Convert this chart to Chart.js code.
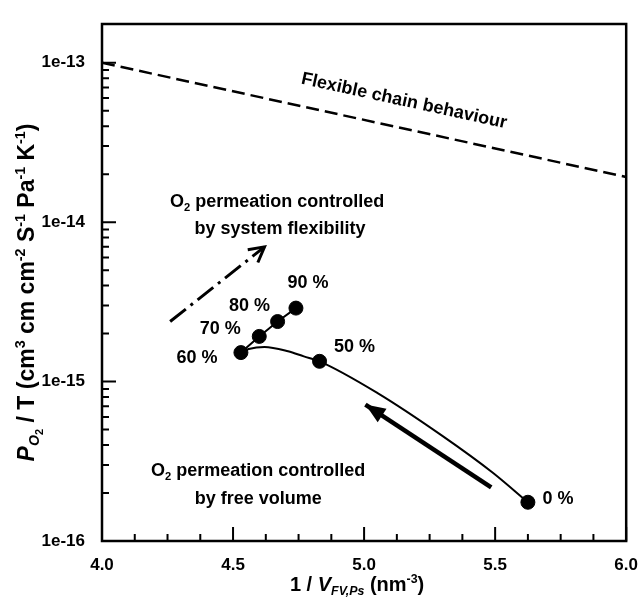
<!DOCTYPE html>
<html>
<head>
<meta charset="utf-8">
<script src="https://cdn.jsdelivr.net/npm/chart.js@4"></script>
<style>
  html, body { margin: 0; padding: 0; background: #fff; }
  canvas { display: block; }
</style>
</head>
<body>
<canvas id="permChart" width="644" height="598"></canvas>
<script>
// ===============================
// O2 PERMEABILITY vs 1/V(FV,Ps)
// ===============================

const FAMILY = '"Liberation Sans", Arial, Helvetica, sans-serif';

// measured samples (composition labels)
const sampleLabels = ["0 %", "50 %", "60 %", "70 %", "80 %", "90 %"];
const sampleX = [5.625, 4.83, 4.53, 4.60, 4.67, 4.74];
const sampleY = [1.75e-16, 1.34e-15, 1.52e-15, 1.92e-15, 2.38e-15, 2.89e-15];

// trend line through the 0 - 60 % samples
const curveX = [4.53, 4.56, 4.62, 4.71, 4.77, 4.83, 5.05, 5.30, 5.49, 5.625];
const curveY = [1.52e-15, 1.60e-15, 1.65e-15, 1.55e-15, 1.44e-15, 1.34e-15, 8.5e-16, 4.55e-16, 2.69e-16, 1.75e-16];

// flexible chain limit
const flexX = [4.0, 6.0];
const flexY = [1.0e-13, 1.92e-14];

// guide arrows (tail -> head)
const flexArrowX = [4.26, 4.62];
const flexArrowY = [2.38e-15, 7.0e-15];
const volArrowX = [5.485, 5.005];
const volArrowY = [2.17e-16, 7.18e-16];

// axes
const xTicks = [4.0, 4.5, 5.0, 5.5, 6.0];
const yTicks = [1e-16, 1e-15, 1e-14, 1e-13];

const pts = (xs, ys) => xs.map((x, i) => ({ x: x, y: ys[i] }));

// label offsets in px from each sample marker
const labelOffsets = {
    "0 %": [30, -3],
    "50 %": [35, -14],
    "60 %": [-44, 5],
    "70 %": [-39, -7],
    "80 %": [-28, -16],
    "90 %": [12, -25]
};

// text runs: [text, kind]  kind = "" | "i" | "sub" | "isub" | "subsub" | "sup"
function richText(ctx, parts, x, y, size, align) {
    const items = parts.map(([t, k]) => {
        let s = size, dy = 0;
        if (k === "sub" || k === "isub") { s = size * 0.62; dy = size * 0.22; }
        if (k === "subsub") { s = size * 0.48; dy = size * 0.38; }
        if (k === "sup") { s = size * 0.62; dy = -size * 0.40; }
        const italic = k === "i" || k === "isub";
        const font = (italic ? "italic " : "") + "bold " + s + "px " + FAMILY;
        ctx.font = font;
        return { t: t, font: font, dy: dy, w: ctx.measureText(t).width };
    });
    const total = items.reduce((a, b) => a + b.w, 0);
    let cx = align === "center" ? x - total / 2 : (align === "right" ? x - total : x);
    ctx.textAlign = "left";
    ctx.textBaseline = "alphabetic";
    items.forEach(it => {
        ctx.font = it.font;
        ctx.fillText(it.t, cx, y + it.dy);
        cx += it.w;
    });
}

const decorPlugin = {
    id: "decor",
    afterDraw(chart) {
        const ctx = chart.ctx;
        const a = chart.chartArea;
        const xs = chart.scales.x;
        const ys = chart.scales.y;

        ctx.save();
        ctx.strokeStyle = "#000";
        ctx.fillStyle = "#000";

        // frame
        ctx.lineWidth = 2.5;
        ctx.strokeRect(a.left, a.top, a.right - a.left, a.bottom - a.top);

        // inward ticks on x
        ctx.lineWidth = 2;
        ctx.beginPath();
        for (let i = 0; i < xTicks.length; i++) {
            const px = xs.getPixelForValue(xTicks[i]);
            ctx.moveTo(px, a.bottom);
            ctx.lineTo(px, a.bottom - 14);
            if (i < xTicks.length - 1) {
                const step = (xTicks[i + 1] - xTicks[i]) / 4;
                for (let m = 1; m < 4; m++) {
                    const mx = xs.getPixelForValue(xTicks[i] + m * step);
                    ctx.moveTo(mx, a.bottom);
                    ctx.lineTo(mx, a.bottom - 7);
                }
            }
        }
        // inward ticks on y (log decades + minors)
        yTicks.forEach(d => {
            const py = ys.getPixelForValue(d);
            ctx.moveTo(a.left, py);
            ctx.lineTo(a.left + 14, py);
            for (let m = 2; m <= 9; m++) {
                const v = d * m;
                if (v > ys.max) break;
                const my = ys.getPixelForValue(v);
                ctx.moveTo(a.left, my);
                ctx.lineTo(a.left + 7, my);
            }
        });
        ctx.stroke();

        // open arrow head on the dash-dot guide
        {
            const n = flexArrowX.length;
            const x1 = xs.getPixelForValue(flexArrowX[n - 2]), y1 = ys.getPixelForValue(flexArrowY[n - 2]);
            const x2 = xs.getPixelForValue(flexArrowX[n - 1]), y2 = ys.getPixelForValue(flexArrowY[n - 1]);
            const ang = Math.atan2(y2 - y1, x2 - x1);
            ctx.lineWidth = 3;
            ctx.beginPath();
            ctx.moveTo(x2 - 17 * Math.cos(ang - 0.5), y2 - 17 * Math.sin(ang - 0.5));
            ctx.lineTo(x2, y2);
            ctx.lineTo(x2 - 17 * Math.cos(ang + 0.5), y2 - 17 * Math.sin(ang + 0.5));
            ctx.stroke();
        }
        // solid arrow head on the free volume guide
        {
            const n = volArrowX.length;
            const x1 = xs.getPixelForValue(volArrowX[n - 2]), y1 = ys.getPixelForValue(volArrowY[n - 2]);
            const x2 = xs.getPixelForValue(volArrowX[n - 1]), y2 = ys.getPixelForValue(volArrowY[n - 1]);
            const ang = Math.atan2(y2 - y1, x2 - x1);
            const len = 20, half = 8;
            const bx = x2 - len * Math.cos(ang), by = y2 - len * Math.sin(ang);
            ctx.beginPath();
            ctx.moveTo(x2, y2);
            ctx.lineTo(bx + half * Math.sin(ang), by - half * Math.cos(ang));
            ctx.lineTo(bx - half * Math.sin(ang), by + half * Math.cos(ang));
            ctx.closePath();
            ctx.fill();
        }

        // sample labels
        ctx.font = "bold 18px " + FAMILY;
        ctx.textAlign = "center";
        ctx.textBaseline = "middle";
        const meta = chart.getDatasetMeta(0);
        meta.data.forEach((el, i) => {
            const off = labelOffsets[sampleLabels[i]];
            ctx.fillText(sampleLabels[i], el.x + off[0], el.y + off[1]);
        });

        // notes
        const flexPx = [xs.getPixelForValue(flexX[0]), ys.getPixelForValue(flexY[0]),
                        xs.getPixelForValue(flexX[1]), ys.getPixelForValue(flexY[1])];
        const slope = Math.atan2(flexPx[3] - flexPx[1], flexPx[2] - flexPx[0]);
        ctx.save();
        ctx.translate(xs.getPixelForValue(5.154), ys.getPixelForValue(5.87e-14));
        ctx.rotate(slope);
        richText(ctx, [["Flexible chain behaviour", ""]], 0, 6.5, 18, "center");
        ctx.restore();

        const ux = xs.getPixelForValue(4.668), uy = ys.getPixelForValue(1.13e-14);
        richText(ctx, [["O", ""], ["2", "sub"], [" permeation controlled", ""]], ux, uy - 7, 18, "center");
        richText(ctx, [["by system flexibility", ""]], ux + 3, uy + 20, 18, "center");

        const lx = xs.getPixelForValue(4.596), ly = ys.getPixelForValue(2.30e-16);
        richText(ctx, [["O", ""], ["2", "sub"], [" permeation controlled", ""]], lx, ly - 7.5, 18, "center");
        richText(ctx, [["by free volume", ""]], lx, ly + 20.5, 18, "center");

        // axis titles
        richText(ctx, [["1 / ", ""], ["V", "i"], ["FV,Ps", "isub"], [" (nm", ""], ["-3", "sup"], [")", ""]],
            (a.left + a.right) / 2 - 7, 591, 20, "center");

        ctx.save();
        ctx.translate(26, (a.top + a.bottom) / 2 + 10);
        ctx.rotate(-Math.PI / 2);
        richText(ctx, [["P", "i"], ["O", "isub"], ["2", "subsub"], [" / T (cm", ""], ["3", "sup"],
            [" cm cm", ""], ["-2", "sup"], [" S", ""], ["-1", "sup"], [" Pa", ""], ["-1", "sup"],
            [" K", ""], ["-1", "sup"], [")", ""]], 0, 8, 23, "center");
        ctx.restore();

        ctx.restore();
    }
};

Chart.defaults.font.family = FAMILY;
Chart.defaults.color = "#000";

new Chart(document.getElementById("permChart").getContext("2d"), {
    type: "scatter",
    data: {
        datasets: [
            {
                // sample markers (drawn on top)
                data: pts(sampleX, sampleY),
                pointRadius: 7,
                pointBackgroundColor: "#000",
                pointBorderColor: "#000",
                showLine: false
            },
            {
                // 60 - 90 % series link
                data: pts(sampleX.slice(2), sampleY.slice(2)),
                showLine: true,
                borderColor: "#000",
                borderWidth: 2,
                pointRadius: 0
            },
            {
                data: pts(curveX, curveY),
                showLine: true,
                borderColor: "#000",
                borderWidth: 2,
                pointRadius: 0,
                cubicInterpolationMode: "monotone"
            },
            {
                data: pts(flexX, flexY),
                showLine: true,
                borderColor: "#000",
                borderWidth: 2.5,
                borderDash: [13, 6],
                pointRadius: 0
            },
            {
                data: pts(flexArrowX, flexArrowY),
                showLine: true,
                borderColor: "#000",
                borderWidth: 3,
                borderDash: [20, 6, 3, 6],
                pointRadius: 0
            },
            {
                data: pts(volArrowX, volArrowY),
                showLine: true,
                borderColor: "#000",
                borderWidth: 4.5,
                pointRadius: 0
            }
        ]
    },
    options: {
        responsive: false,
        animation: false,
        layout: {
            padding: { top: 24, right: 13, left: 0, bottom: 0 }
        },
        plugins: {
            legend: { display: false },
            tooltip: { enabled: false }
        },
        scales: {
            x: {
                type: "linear",
                min: 4.0,
                max: 6.0,
                afterBuildTicks: s => { s.ticks = xTicks.map(v => ({ value: v })); },
                afterFit: s => { s.height = 57; },
                grid: { display: false },
                border: { display: false },
                ticks: {
                    color: "#000",
                    padding: 6,
                    maxRotation: 0,
                    autoSkip: false,
                    font: { size: 17, weight: "bold" },
                    callback: v => Number(v).toFixed(1)
                }
            },
            y: {
                type: "logarithmic",
                min: 1e-16,
                max: 1.75e-13,
                afterBuildTicks: s => { s.ticks = yTicks.map(v => ({ value: v })); },
                afterFit: s => { s.width = 102; },
                grid: { display: false },
                border: { display: false },
                ticks: {
                    color: "#000",
                    padding: 9,
                    autoSkip: false,
                    font: { size: 17, weight: "bold" },
                    callback: v => Number(v).toExponential(0).replace("+", "")
                }
            }
        }
    },
    plugins: [decorPlugin]
});
</script>
</body>
</html>
